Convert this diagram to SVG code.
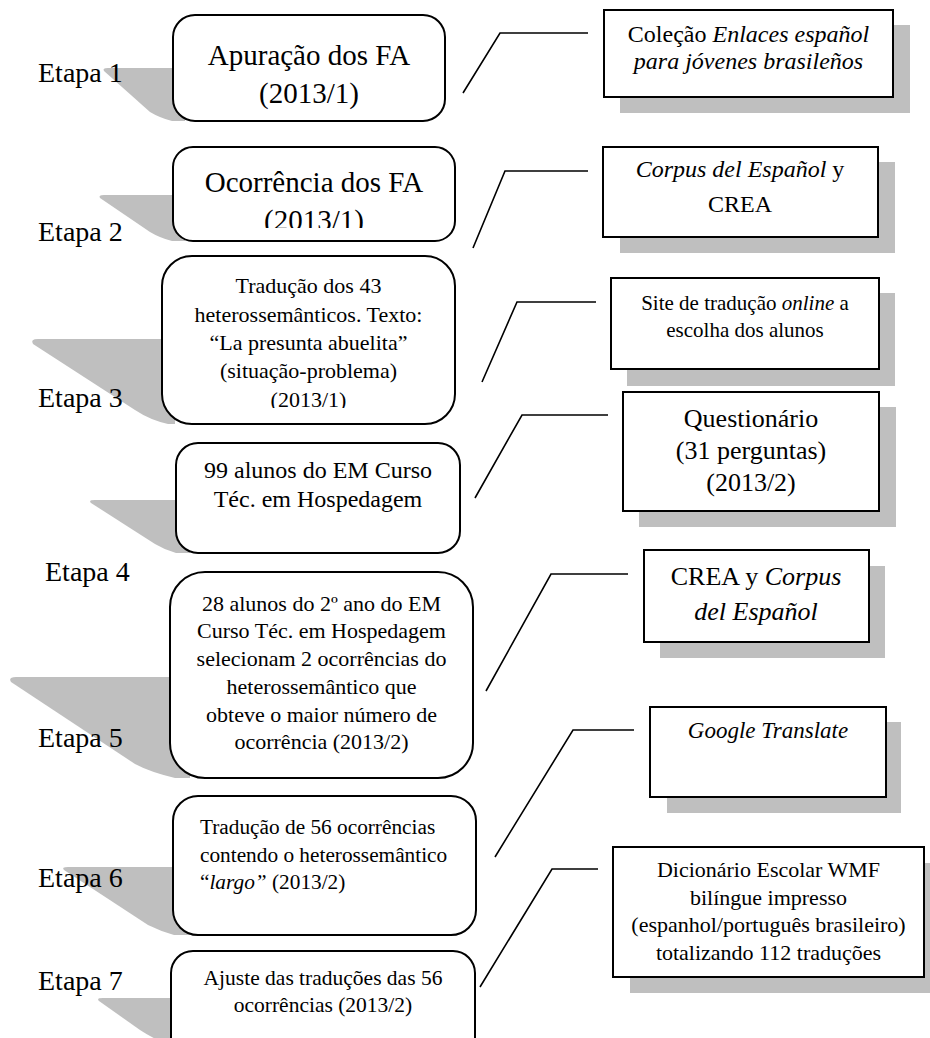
<svg xmlns="http://www.w3.org/2000/svg" width="930" height="1038" viewBox="0 0 930 1038">
<style>
text{font-family:"Liberation Serif","Times New Roman",serif;fill:#000}
.et{font-size:28px}
.c{text-anchor:middle}
.i{font-style:italic}
.box{fill:#fff;stroke:#000;stroke-width:2}
.sh{fill:#bfbfbf;stroke:none}
.con{fill:none;stroke:#000;stroke-width:1.6}
</style>
<defs>
<clipPath id="clip2"><rect x="170" y="140" width="300" height="88"/></clipPath>
<clipPath id="clip3"><rect x="150" y="250" width="320" height="158"/></clipPath>
</defs>
<rect width="930" height="1038" fill="#fff"/>

<g id="connectors">
<polyline class="con" points="463,93 500,33 588,33"/>
<polyline class="con" points="473,248 505,171 588,171"/>
<polyline class="con" points="482,382 517,302 596,302"/>
<polyline class="con" points="475,498 522,415 608,415"/>
<polyline class="con" points="486,691 551,574 628,574"/>
<polyline class="con" points="495,857 573,730 634,730"/>
<polyline class="con" points="480,987 552,869 598,869"/>
</g>

<g id="step1">
<path class="sh" d="M104,71 Q102,68 108,68 L185,68 L185,121 L172,121 Q160,118 150,112 Z"/>
<rect class="box" x="173" y="15" width="272" height="106" rx="22"/>
<text x="309" y="65" class="c" font-size="29">Apuração dos FA</text>
<text x="309" y="103" class="c" font-size="29">(2013/1)</text>
<text x="38" y="82" class="et">Etapa 1</text>
</g>

<g id="step2">
<path class="sh" d="M100,198 Q98,195 104,195 L185,195 L185,241 L172,241 Q160,238 150,232 Z"/>
<rect class="box" x="173" y="147" width="282" height="94" rx="20"/>
<g clip-path="url(#clip2)">
<text x="314" y="192" class="c" font-size="29">Ocorrência dos FA</text>
<text x="314" y="230" class="c" font-size="29">(2013/1)</text>
</g>
<text x="38" y="241" class="et">Etapa 2</text>
</g>

<g id="step3">
<path class="sh" d="M33,344 Q30,339 38,339 L175,339 L175,424 L168,424 Q150,420 135,410 Z"/>
<rect class="box" x="162" y="256" width="293" height="168" rx="30"/>
<g clip-path="url(#clip3)" font-size="22">
<text x="308.5" y="293" class="c">Tradução dos 43</text>
<text x="308.5" y="322" class="c">heterossemânticos. Texto:</text>
<text x="308.5" y="350" class="c">“La presunta abuelita”</text>
<text x="308.5" y="378" class="c">(situação-problema)</text>
<text x="308.5" y="407" class="c">(2013/1)</text>
</g>
<text x="38" y="407" class="et">Etapa 3</text>
</g>

<g id="step4">
<path class="sh" d="M91,503 Q88,500 95,500 L190,500 L190,553 L176,553 Q165,550 155,544 Z"/>
<rect class="box" x="176" y="443" width="284" height="110" rx="22"/>
<text x="318" y="478" class="c" font-size="24">99 alunos do EM Curso</text>
<text x="318" y="507" class="c" font-size="24">Téc. em Hospedagem</text>
<text x="45" y="581" class="et">Etapa 4</text>
</g>

<g id="step5">
<path class="sh" d="M11,682 Q8,677 16,677 L190,677 L190,778 L175,778 Q150,772 135,764 Z"/>
<rect class="box" x="170" y="572" width="303" height="206" rx="35"/>
<g font-size="22">
<text x="321.5" y="611" class="c">28 alunos do 2º ano do EM</text>
<text x="321.5" y="638" class="c">Curso Téc. em Hospedagem</text>
<text x="321.5" y="666" class="c">selecionam 2 ocorrências do</text>
<text x="321.5" y="694" class="c">heterossemântico que</text>
<text x="321.5" y="722" class="c">obteve o maior número de</text>
<text x="321.5" y="749" class="c">ocorrência (2013/2)</text>
</g>
<text x="38" y="747" class="et">Etapa 5</text>
</g>

<g id="step6">
<path class="sh" d="M64,870 Q61,867 68,867 L190,867 L190,935 L174,935 Q160,931 148,925 Z"/>
<rect class="box" x="173" y="796" width="303" height="139" rx="25"/>
<g font-size="21.3">
<text x="200" y="834">Tradução de 56 ocorrências</text>
<text x="200" y="862">contendo o heterossemântico</text>
<text x="200" y="889">“<tspan class="i">largo”</tspan> (2013/2)</text>
</g>
<text x="38" y="887" class="et">Etapa 6</text>
</g>

<g id="step7">
<path class="sh" d="M99,1001 Q96,998 103,998 L190,998 L190,1045 L171,1045 Q155,1040 140,1030 Z"/>
<rect class="box" x="171" y="951" width="304" height="110" rx="22"/>
<text x="323" y="985" class="c" font-size="21.5">Ajuste das traduções das 56</text>
<text x="323" y="1012" class="c" font-size="21.5">ocorrências (2013/2)</text>
<text x="38" y="990" class="et">Etapa 7</text>
</g>

<g id="source1">
<rect class="sh" x="620" y="25" width="290" height="88"/>
<rect class="box" x="604" y="10" width="289" height="87"/>
<text x="748.5" y="42" class="c" font-size="24">Coleção <tspan class="i">Enlaces español</tspan></text>
<text x="748.5" y="69" class="c i" font-size="24">para jóvenes brasileños</text>
</g>

<g id="source2">
<rect class="sh" x="620" y="162" width="275" height="91"/>
<rect class="box" x="603" y="147" width="275" height="90"/>
<text x="740" y="177" class="c" font-size="24"><tspan class="i">Corpus del Español</tspan> y</text>
<text x="740" y="212" class="c" font-size="24">CREA</text>
</g>

<g id="source3">
<rect class="sh" x="627" y="293" width="268" height="93"/>
<rect class="box" x="611" y="278" width="268" height="91"/>
<text x="745" y="310" class="c" font-size="21">Site de tradução <tspan class="i">online</tspan> a</text>
<text x="745" y="337" class="c" font-size="21">escolha dos alunos</text>
</g>

<g id="source4">
<rect class="sh" x="639" y="407" width="257" height="120"/>
<rect class="box" x="623" y="392" width="256" height="119"/>
<text x="751" y="427" class="c" font-size="26">Questionário</text>
<text x="751" y="459" class="c" font-size="26">(31 perguntas)</text>
<text x="751" y="491" class="c" font-size="26">(2013/2)</text>
</g>

<g id="source5">
<rect class="sh" x="660" y="566" width="225" height="92"/>
<rect class="box" x="644" y="550" width="225" height="92"/>
<text x="756" y="585" class="c" font-size="26">CREA y <tspan class="i">Corpus</tspan></text>
<text x="756" y="620" class="c i" font-size="26">del Español</text>
</g>

<g id="source6">
<rect class="sh" x="667" y="722" width="234" height="91"/>
<rect class="box" x="650" y="707" width="236" height="90"/>
<text x="768" y="738" class="c i" font-size="23">Google Translate</text>
</g>

<g id="source7">
<rect class="sh" x="630" y="863" width="311" height="130"/>
<rect class="box" x="613" y="847" width="311" height="130"/>
<g font-size="22">
<text x="768.5" y="877" class="c">Dicionário Escolar WMF</text>
<text x="768.5" y="905" class="c">bilíngue impresso</text>
<text x="768.5" y="932" class="c">(espanhol/português brasileiro)</text>
<text x="768.5" y="960" class="c">totalizando 112 traduções</text>
</g>
</g>
</svg>
